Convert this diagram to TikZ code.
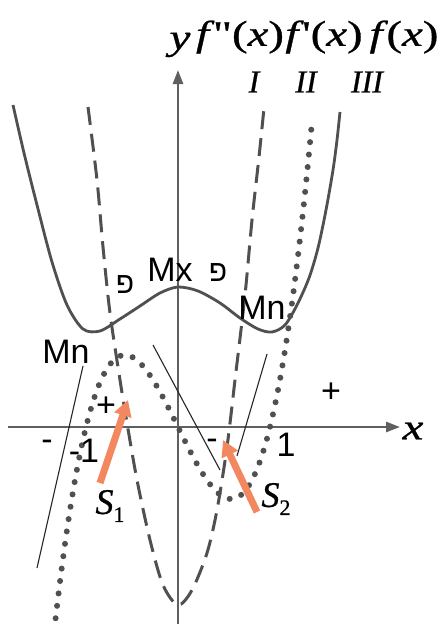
\documentclass[tikz,border=0pt]{standalone}
\usepackage{fontspec}
\usepackage{graphicx}
\usetikzlibrary{arrows.meta}
\newfontfamily\serf{Liberation Serif}[FakeBold=0.7]
\newfontfamily\sansf{Liberation Sans}
\newfontfamily\hebf[Script=Hebrew]{Liberation Sans}
\TeXXeTstate=1
\definecolor{axisgray}{RGB}{95,95,95}
\definecolor{curvegray}{RGB}{80,80,80}
\definecolor{arroworange}{RGB}{243,135,95}
\newcommand\wid[1]{\scalebox{1.3}[1]{#1}}
\begin{document}
\begin{tikzpicture}[x=1pt,y=-1pt,
  axisline/.style={draw=axisgray,line width=2.6pt,-{Triangle[length=14pt,width=10pt]}},
  solidcurve/.style={draw=curvegray,line width=2.8pt},
  dashcurve/.style={draw=curvegray,line width=3pt,dash pattern=on 18pt off 9pt},
  dotcurve/.style={draw=curvegray,line width=6pt,line cap=round,dash pattern=on 0pt off 12.5pt},
  thinline/.style={draw=black!85,line width=1.1pt},
  sarrow/.style={draw=arroworange,line width=7pt,-{Triangle[length=16pt,width=17pt]}},
  serlab/.style={font=\serf\fontsize{36}{40}\selectfont, inner sep=0pt},
  romlab/.style={font=\serf\fontsize{32}{36}\selectfont\itshape, inner sep=0pt},
  sanslab/.style={font=\sansf\fontsize{34}{38}\selectfont, inner sep=0pt},
  heblab/.style={font=\hebf\fontsize{30}{34}\selectfont, inner sep=0pt},
]
\useasboundingbox[fill=white] (0,0) rectangle (445,624);

% axes
\coordinate (xs) at (8,427);
\coordinate (xe) at (400,427);
\coordinate (ys) at (178,624);
\coordinate (ye) at (178,70);
\draw[axisline] (xs) -- (xe);
\draw[axisline] (ys) -- (ye);

% curve III : f(x)
\draw[solidcurve] plot[smooth] coordinates {(13,105) (24,153) (37,205) (52,262) (67,305) (83,329) (100,331) (120,319) (140,306) (160,293) (178,287) (198,291) (220,303) (240,318) (258,329) (272,332) (285,325) (297,305) (309,278) (318,248) (326,210) (333,170) (337,140) (340,112)};

% curve I : f''(x)
\draw[dashcurve] plot[smooth] coordinates {(88,107) (97,180) (103,247) (110,313) (120,380) (127,423) (137,480) (150,540) (163,585) (178,605) (192,590) (207,553) (217,510) (227,447) (235,380) (245,295) (252,220) (259,157) (264,108)};

% curve II : f'(x)
\draw[dotcurve] plot[domain=-1.33:1.46, samples=120] ({178+92*\x},{427-187*(\x*\x*\x-\x)});

% thin tangent lines
\coordinate (t1a) at (37,568);
\coordinate (t1b) at (83,366);
\coordinate (t2a) at (153,345);
\coordinate (t2b) at (220,470);
\coordinate (t3a) at (267,354);
\coordinate (t3b) at (237,456);
\draw[thinline] (t1a) -- (t1b);
\draw[thinline] (t2a) -- (t2b);
\draw[thinline] (t3a) -- (t3b);

% orange arrows
\coordinate (s1t) at (100,483);
\coordinate (s1h) at (128,400);
\coordinate (s2t) at (257,512);
\coordinate (s2h) at (223,440);
\draw[sarrow] (s1t) -- (s1h);
\draw[sarrow] (s2t) -- (s2h);

% top labels
\node[serlab] (ylab) at (180,45) {\wid{\itshape y}};
\node[serlab] (f2lab) at (240,37) {\wid{\itshape f\hspace{3pt}\upshape"(\itshape x\upshape)}};
\node[serlab] (f1lab) at (324,37) {\wid{\itshape f\hspace{3pt}\upshape'(\itshape x\upshape)}};
\node[serlab] (f0lab) at (404,37) {\wid{\itshape f\hspace{3pt}\upshape(\itshape x\upshape)}};
\node[romlab] (lI) at (254,82) {I};
\node[romlab] (lII) at (306,82) {II};
\node[romlab] (lIII) at (367,82) {III};

% point labels
\node[sanslab] (mx) at (170,270) {Mx};
\node[sanslab] (mnl) at (66,352) {Mn};
\node[sanslab] (mnr) at (262,308) {Mn};
\node[heblab] (pl) at (125,285) {\beginR פ\endR};
\node[heblab] (pr) at (218,273) {\beginR פ\endR};

% sign labels
\node[sanslab] (plusl) at (106,407) {+};
\node[sanslab] (plusr) at (331,393) {+};
\node[sanslab] (minl) at (47,445) {-};
\node[sanslab] (m1) at (84,451) {-1};
\node[sanslab] (minm) at (212,444) {-};
\node[sanslab] (one) at (286,445) {1};
\node[serlab] (xlab) at (413,431) {\wid{\itshape x}};

% areas
\node[serlab] (s1lab) at (110,506) {\itshape S\raisebox{-8pt}{\upshape\fontsize{22}{22}\selectfont 1}};
\node[serlab] (s2lab) at (276,499) {\itshape S\raisebox{-8pt}{\upshape\fontsize{22}{22}\selectfont 2}};
\end{tikzpicture}
\end{document}
